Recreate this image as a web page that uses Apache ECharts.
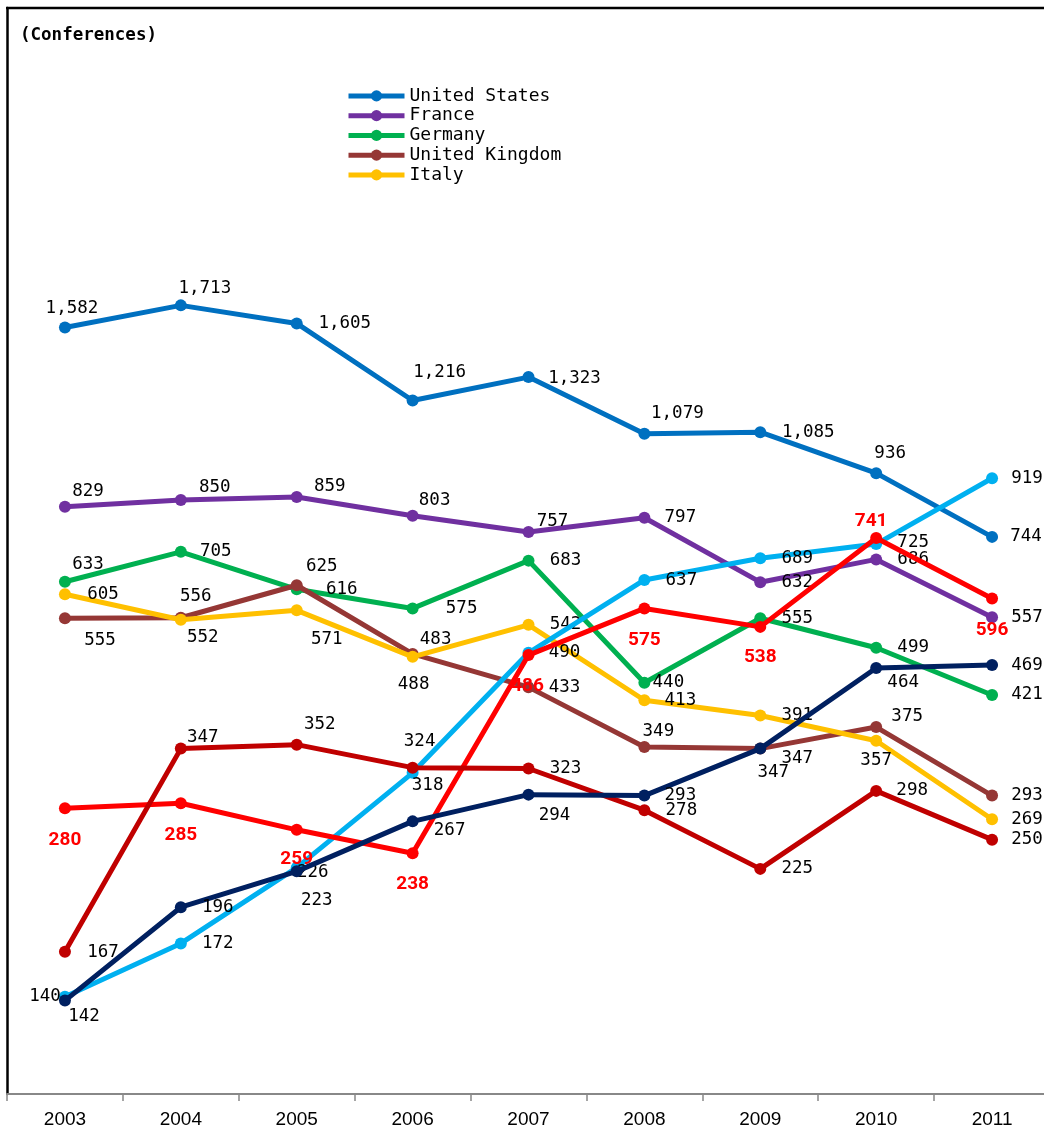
<!DOCTYPE html>
<html>
<head>
<meta charset="utf-8">
<script src="https://cdn.jsdelivr.net/npm/echarts@6/dist/echarts.min.js"></script>
<style>
html,body{margin:0;padding:0;background:#fff;}
#chart{width:1044px;height:1133px;}
</style>
</head>
<body>
<div id="chart"></div>
<script>
// ---- data ----
const years = ['2003','2004','2005','2006','2007','2008','2009','2010','2011'];
const unitedStates  = [1582, 1713, 1605, 1216, 1323, 1079, 1085, 936, 744];
const france        = [829, 850, 859, 803, 757, 797, 632, 686, 557];
const germany       = [633, 705, 616, 575, 683, 440, 555, 499, 421];
const unitedKingdom = [555, 556, 625, 488, 433, 349, 347, 375, 293];
const italy         = [605, 552, 571, 483, 542, 413, 391, 357, 269];
const lightBlueSeries = [142, 172, 226, 318, 490, 637, 689, 725, 919];
const redSeries       = [280, 285, 259, 238, 486, 575, 538, 741, 596];
const darkRedSeries   = [167, 347, 352, 324, 323, 278, 225, 298, 250];
const navySeries      = [140, 196, 223, 267, 294, 293, 347, 464, 469];
const yAxisTitle = '(Conferences)';

// ---- layout: label offsets (dx, dy) relative to each point ----
const offUS  = [[7,-19],[24,-17],[48,0],[27,-28],[46,1],[33,-20],[48,0],[14,-20],[34,0]];
const offFR  = [[23,-15],[34,-12],[33,-11],[22,-15],[24,-11],[36,0],[37,0],[37,0],[35,0]];
const offDE  = [[23,-17],[35,0],[45,0],[49,0],[37,0],[24,0],[37,0],[37,0],[35,0]];
const offUK  = [[35,22],[15,-21],[25,-19],[1,30],[36,0],[14,-16],[37,10],[31,-11],[35,0]];
const offIT  = [[38,0],[22,18],[30,29],[23,-17],[37,0],[36,0],[37,0],[0,20],[35,0]];
const offLB  = [[19,20],[37,0],[16,5],[15,13],[36,0],[37,0],[37,0],[37,-2],[35,0]];
const offRD  = [[0,32],[0,32],[0,29],[0,31],[-1,31],[0,32],[0,30],[-5,-17],[0,32]];
const offDR  = [[38,1],[22,-11],[23,-20],[7,-26],[37,0],[37,0],[37,0],[36,0],[35,0]];
const offNV  = [[-20,-4],[37,0],[20,29],[37,9],[26,21],[36,0],[13,24],[27,14],[35,0]];

const MONO = '"DejaVu Sans Mono", "Liberation Mono", monospace';
const fmt = v => v.toLocaleString('en-US');

const blackLabel = {color:'#000', fontFamily: MONO, fontSize: 17.5};
const redLabel = {color:'#FF0000', fontFamily: 'Roboto, "Liberation Sans", sans-serif', fontWeight:'bold', fontSize: 19};

function mk(name, values, color, offsets, lblStyle, z) {
  return {
    type: 'line', name: name,
    data: values.map((v, i) => ({value: v, label: {offset: offsets[i]}})),
    symbol: 'circle', symbolSize: 12, showSymbol: true,
    lineStyle: {width: 5, color: color},
    itemStyle: {color: color},
    label: Object.assign({show: true, position: 'inside', align: 'center', verticalAlign: 'middle',
      formatter: p => fmt(p.value)}, lblStyle),
    emphasis: {disabled: true},
    z: z, animation: false
  };
}

const chart = echarts.init(document.getElementById('chart'), null, {renderer: 'canvas'});
chart.setOption({
  animation: false,
  backgroundColor: '#fff',
  grid: {left: 7, top: 8, width: 1043, height: 1086, outerBoundsMode: 'none', containLabel: false},
  legend: {
    data: ['United States','France','Germany','United Kingdom','Italy'],
    orient: 'vertical', left: 341, top: 81,
    itemWidth: 56, itemHeight: 14, itemGap: 0,
    lineStyle: {width: 5},
    textStyle: {fontFamily: MONO, fontSize: 18, lineHeight: 19.75, color: '#000'},
    selectedMode: false
  },
  xAxis: {
    type: 'category', data: years, boundaryGap: true,
    axisLine: {show: true, lineStyle: {color: '#888', width: 2}},
    axisTick: {show: true, interval: 0, length: 7, lineStyle: {color: '#888', width: 1.5}},
    axisLabel: {interval: 0, margin: 16, color: '#000', fontFamily: '"Liberation Sans", Arial, sans-serif', fontSize: 19}
  },
  yAxis: {
    type: 'log', logBase: 10, min: 100, max: 5000,
    axisLine: {show: true, lineStyle: {color: '#000', width: 2.5}},
    axisTick: {show: false}, axisLabel: {show: false}, splitLine: {show: false}
  },
  graphic: [
    {type: 'line', shape: {x1: 6, y1: 8, x2: 1044, y2: 8}, style: {stroke: '#000', lineWidth: 2.5}, z: 100},
    {type: 'text', left: 20, top: 26, style: {text: yAxisTitle, font: 'bold 17.5px ' + MONO, fill: '#000'}}
  ],
  series: [
    mk('United States', unitedStates, '#0070C0', offUS, blackLabel, 2),
    mk('France', france, '#7030A0', offFR, blackLabel, 3),
    mk('Germany', germany, '#00B050', offDE, blackLabel, 4),
    mk('United Kingdom', unitedKingdom, '#953735', offUK, blackLabel, 5),
    mk('Italy', italy, '#FFC000', offIT, blackLabel, 6),
    mk('Series 6', lightBlueSeries, '#00B0F0', offLB, blackLabel, 7),
    mk('Series 7', redSeries, '#FF0000', offRD, redLabel, 8),
    mk('Series 8', darkRedSeries, '#C00000', offDR, blackLabel, 9),
    mk('Series 9', navySeries, '#002060', offNV, blackLabel, 10)
  ]
});
</script>
</body>
</html>
